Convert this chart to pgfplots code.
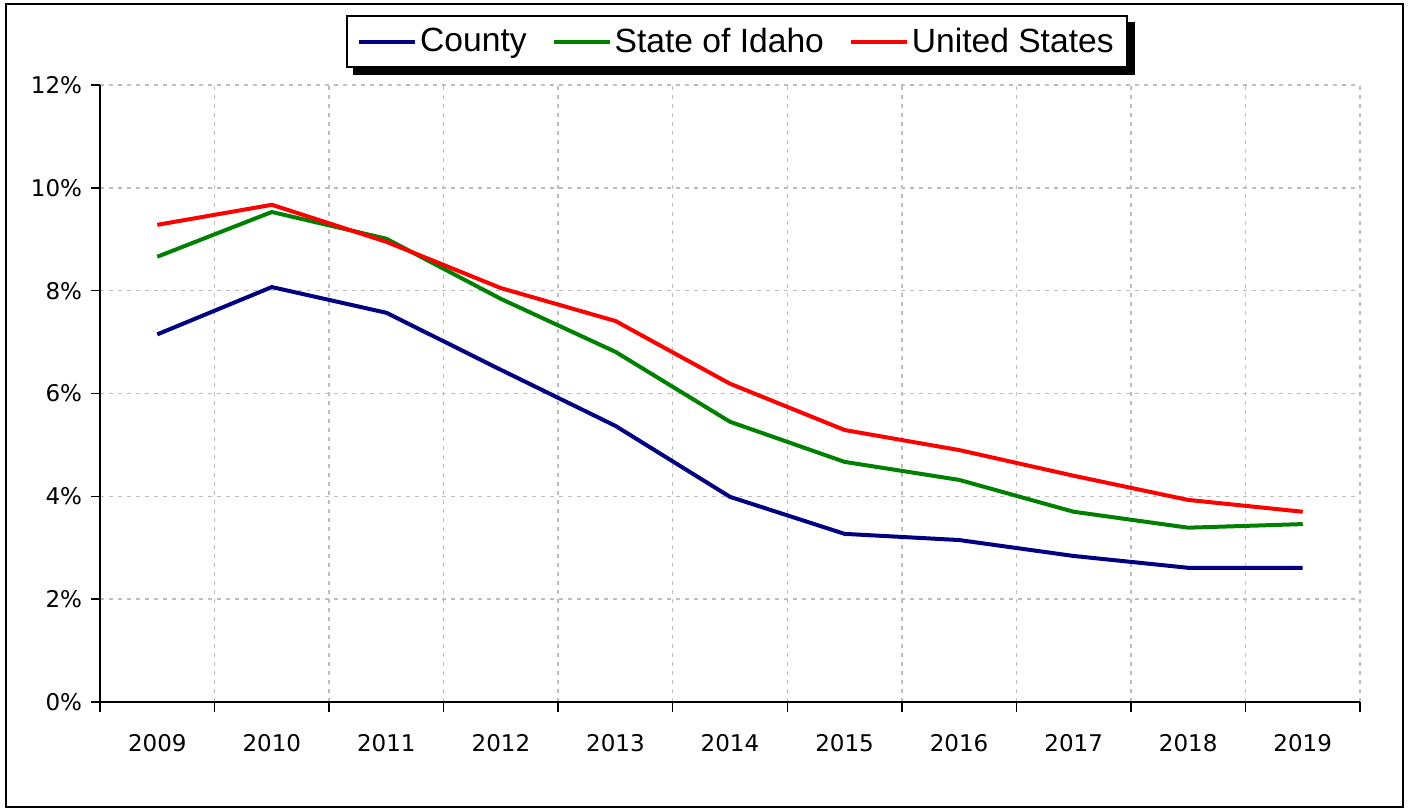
\documentclass[border=0pt]{standalone}
\usepackage{fontspec}
\setmainfont{Liberation Sans}
\newfontfamily\tickfont{DejaVu Sans}
\usepackage{pgfplots}
\pgfplotsset{compat=1.18}
\usetikzlibrary{backgrounds}
\definecolor{cnty}{RGB}{0,0,128}
\definecolor{idaho}{RGB}{0,128,0}
\definecolor{usa}{RGB}{255,0,0}
\definecolor{gridgray}{RGB}{190,190,190}

\begin{document}
\begin{tikzpicture}
\useasboundingbox (0,0) rectangle (705.5bp,404bp);
\draw[line width=1bp] (3bp,0.5bp) rectangle (701.5bp,402bp);
\begin{axis}[
    at={(50bp,53bp)}, anchor=south west,
    scale only axis,
    width=630bp, height=308.5bp,
    xmin=2008.5, xmax=2019.5,
    ymin=0, ymax=12,
    axis lines=left,
    axis line style={-, line width=1bp, black},
    xtick={2009,2010,2011,2012,2013,2014,2015,2016,2017,2018,2019},
    xticklabels={2009,2010,2011,2012,2013,2014,2015,2016,2017,2018,2019},
    minor xtick={2008.5,2009.5,2010.5,2011.5,2012.5,2013.5,2014.5,2015.5,2016.5,2017.5,2018.5,2019.5},
    ytick={0,2,4,6,8,10,12},
    yticklabels={0\%,2\%,4\%,6\%,8\%,10\%,12\%},
    tick align=outside,
    major x tick style={draw=none},
    minor x tick style={line width=0.75bp, black},
    minor tick length=5bp,
    major tick length=4.5bp,
    y tick style={line width=0.75bp, black},
    xminorgrids, ymajorgrids,
    grid style={line width=0.75bp, gridgray, dash pattern=on 2bp off 2.5bp},
    minor grid style={line width=0.75bp, gridgray, dash pattern=on 2bp off 2.5bp},
    tick label style={font=\tickfont\fontsize{11.5bp}{13bp}\selectfont},
    xticklabel style={yshift=-8bp},
    yticklabel style={xshift=-1bp},
    legend style={name=leg, at={(rel axis cs:0.5055,1.1135)}, anchor=north,
        legend columns=3, draw=black, line width=1bp, fill=white,
        font=\fontsize{16.8bp}{19bp}\selectfont,
        inner ysep=4bp, inner xsep=5bp,
        nodes={inner xsep=1.5bp},
        /tikz/every even column/.append style={column sep=11bp}},
    legend image code/.code={\draw[#1, line width=2bp] (0bp,0bp) -- (28bp,0bp);},
]
\addplot[cnty, line width=2bp] coordinates {
 (2009,7.15) (2010,8.07) (2011,7.57) (2012,6.46) (2013,5.37) (2014,3.99)
 (2015,3.27) (2016,3.15) (2017,2.84) (2018,2.61) (2019,2.61)
};
\addlegendentry{County}
\addplot[idaho, line width=2bp] coordinates {
 (2009,8.66) (2010,9.53) (2011,9.01) (2012,7.84) (2013,6.81) (2014,5.45)
 (2015,4.67) (2016,4.32) (2017,3.70) (2018,3.39) (2019,3.46)
};
\addlegendentry{State of Idaho}
\addplot[usa, line width=2bp] coordinates {
 (2009,9.28) (2010,9.67) (2011,8.95) (2012,8.05) (2013,7.41) (2014,6.19)
 (2015,5.29) (2016,4.90) (2017,4.40) (2018,3.93) (2019,3.70)
};
\addlegendentry{United States}
\end{axis}
\begin{scope}[on background layer]
\fill[black] ([shift={(3.5bp,-3.5bp)}]leg.south west) rectangle ([shift={(3.5bp,-3.5bp)}]leg.north east);
\end{scope}
\end{tikzpicture}
\end{document}
